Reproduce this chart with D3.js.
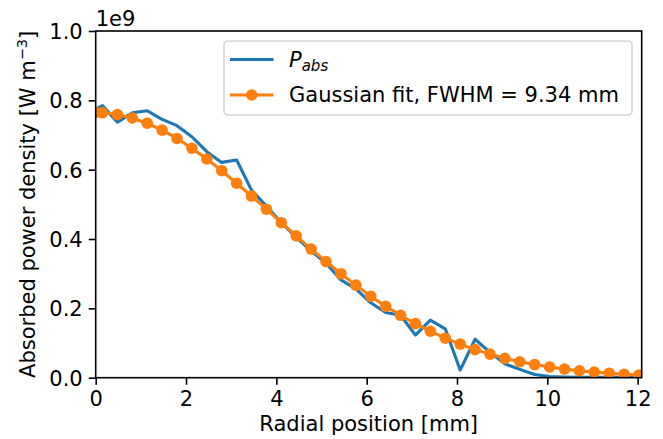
<!DOCTYPE html>
<html>
<head>
<meta charset="utf-8">
<script src="https://cdn.jsdelivr.net/npm/d3@7/dist/d3.min.js"></script>
<style>
  html, body { margin: 0; padding: 0; background: #fff; }
  svg { display: block; font-family: "DejaVu Sans", sans-serif; }
</style>
</head>
<body>
<svg id="chart" width="663" height="439"></svg>
<script>
// ---- data ----
const radialX = [0, 0.15, 0.48, 0.81, 1.14, 1.47, 1.80, 2.13, 2.46, 2.79, 3.12, 3.45, 3.78,
  4.11, 4.44, 4.77, 5.10, 5.43, 5.76, 6.09, 6.42, 6.75, 7.08, 7.41, 7.74, 8.07, 8.40,
  8.73, 9.06, 9.39, 9.72, 10.05, 10.38, 10.71, 11.04, 11.37, 11.70, 12.03];
const pAbs = [0.775, 0.785, 0.737, 0.764, 0.770, 0.745, 0.727, 0.695, 0.652, 0.621, 0.628, 0.541, 0.495,
  0.447, 0.405, 0.366, 0.330, 0.282, 0.256, 0.216, 0.188, 0.180, 0.123, 0.166, 0.141, 0.022, 0.111,
  0.073, 0.040, 0.024, 0.009, 0.003, 0.002, 0.001, 0.001, 0.001, 0.001, 0.001];
const gaussFit = [0.765, 0.764, 0.759, 0.749, 0.734, 0.714, 0.690, 0.662, 0.631, 0.597, 0.561, 0.524, 0.486,
  0.447, 0.409, 0.371, 0.335, 0.300, 0.267, 0.235, 0.206, 0.180, 0.156, 0.134, 0.114, 0.097, 0.081,
  0.068, 0.056, 0.046, 0.038, 0.031, 0.025, 0.020, 0.016, 0.013, 0.010, 0.008];
const xTicks = [0, 2, 4, 6, 8, 10, 12];
const yTicks = [0.0, 0.2, 0.4, 0.6, 0.8, 1.0];
const xLabel = "Radial position [mm]";
const yLabelMain = "Absorbed power density [W m";
const yLabelSup = "\u22123";
const offsetLabel = "1e9";
const legendLabel2 = "Gaussian fit, FWHM = 9.34 mm";

// ---- layout ----
const L = 95.7, R = 641.7, T = 31, B = 377.7;
const FS = 21;
const blue = "#1f77b4", orange = "#ff7f0e";

const svg = d3.select("#chart");
const x = d3.scaleLinear().domain([0, 12.09]).range([L, R]);
const y = d3.scaleLinear().domain([0, 1.0]).range([B, T]);

svg.append("defs").append("clipPath").attr("id", "clip")
  .append("rect").attr("x", L).attr("y", T).attr("width", R - L).attr("height", B - T);

const plot = svg.append("g").attr("clip-path", "url(#clip)");
const pts = radialX.map((d, i) => ({ x: d, a: pAbs[i], g: gaussFit[i] }));

plot.append("path").datum(pts)
  .attr("fill", "none").attr("stroke", blue).attr("stroke-width", 3.1)
  .attr("stroke-linejoin", "round").attr("stroke-linecap", "square")
  .attr("d", d3.line().x(d => x(d.x)).y(d => y(d.a)));

plot.append("path").datum(pts)
  .attr("fill", "none").attr("stroke", orange).attr("stroke-width", 3.1)
  .attr("stroke-linejoin", "round")
  .attr("d", d3.line().x(d => x(d.x)).y(d => y(d.g)));

plot.selectAll("circle.m").data(pts).enter().append("circle")
  .attr("class", "m").attr("cx", d => x(d.x)).attr("cy", d => y(d.g))
  .attr("r", 5.8).attr("fill", orange);

// ---- axes ----
const xAxis = d3.axisBottom(x).tickValues(xTicks).tickSize(7).tickPadding(6).tickFormat(d3.format("d"));
const yAxis = d3.axisLeft(y).tickValues(yTicks).tickSize(7).tickPadding(6).tickFormat(d3.format(".1f"));

const gx = svg.append("g").attr("transform", `translate(0,${B})`).call(xAxis);
const gy = svg.append("g").attr("transform", `translate(${L},0)`).call(yAxis);
[gx, gy].forEach(g => {
  g.select(".domain").remove();
  g.selectAll(".tick line").attr("stroke", "#000").attr("stroke-width", 1.6);
  g.selectAll(".tick text").attr("fill", "#000").style("font-size", FS + "px")
    .style("font-family", "DejaVu Sans");
});
gy.selectAll(".tick text").attr("dy", "0.36em");
gx.selectAll(".tick text").attr("dy", "0.74em");

// spines
svg.append("rect").attr("x", L).attr("y", T).attr("width", R - L).attr("height", B - T)
  .attr("fill", "none").attr("stroke", "#000").attr("stroke-width", 1.6);

// offset text
svg.append("text").attr("x", L).attr("y", 26).style("font-size", FS + "px").text(offsetLabel);

// axis labels
svg.append("text").attr("x", (L + R) / 2).attr("y", 431).attr("text-anchor", "middle")
  .style("font-size", FS + "px").text(xLabel);

const yl = svg.append("text").attr("transform", `translate(35,${(T + B) / 2}) rotate(-90)`)
  .attr("text-anchor", "middle").style("font-size", FS + "px");
yl.append("tspan").text(yLabelMain);
yl.append("tspan").attr("dy", -8).style("font-size", "14.5px").text(yLabelSup);
yl.append("tspan").attr("dy", 8).text("]");

// ---- legend ----
const lg = svg.append("g");
lg.append("rect").attr("x", 224).attr("y", 41).attr("width", 408).attr("height", 74)
  .attr("rx", 4).attr("fill", "#fff").attr("fill-opacity", 0.8)
  .attr("stroke", "#d5d5d5").attr("stroke-width", 1.6);
lg.append("line").attr("x1", 230).attr("x2", 273.5).attr("y1", 59.5).attr("y2", 59.5)
  .attr("stroke", blue).attr("stroke-width", 3.1);
lg.append("line").attr("x1", 230).attr("x2", 273.5).attr("y1", 95).attr("y2", 95)
  .attr("stroke", orange).attr("stroke-width", 3.1);
lg.append("circle").attr("cx", 251.7).attr("cy", 95).attr("r", 5.8).attr("fill", orange);

const t1 = lg.append("text").attr("x", 289).attr("y", 67).style("font-size", FS + "px");
t1.append("tspan").style("font-style", "italic").text("P");
t1.append("tspan").attr("dy", 4).style("font-style", "italic").style("font-size", "15px").text("abs");
lg.append("text").attr("x", 289).attr("y", 102).style("font-size", FS + "px").text(legendLabel2);
</script>
</body>
</html>
